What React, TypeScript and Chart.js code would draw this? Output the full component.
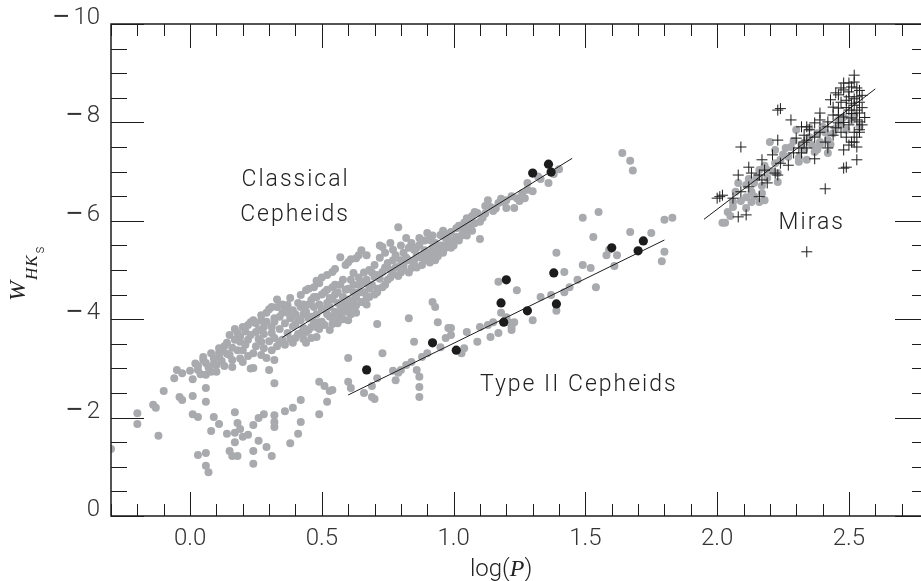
import React, { useEffect, useRef } from 'react';
import { Chart, registerables } from 'chart.js';
Chart.register(...registerables);

// ---- data (log P, W_HKs) ----
const classicalPoints: [number, number][] = [
  [-0.06,-2.80],[-0.05,-2.97],[-0.03,-2.90],[0.01,-2.78],[0.03,-2.97],[0.03,-3.05],[0.05,-3.17],[0.05,-3.23],[0.06,-2.87],[0.06,-3.11],
  [0.08,-2.93],[0.08,-3.31],[0.09,-3.09],[0.10,-2.93],[0.10,-3.07],[0.11,-3.31],[0.11,-3.23],[0.11,-3.41],[0.12,-3.37],[0.14,-3.52],
  [0.15,-3.27],[0.15,-3.68],[0.16,-3.03],[0.16,-3.17],[0.17,-3.58],[0.18,-3.72],[0.18,-3.37],[0.19,-3.54],[0.20,-3.37],[0.20,-3.13],
  [0.20,-3.84],[0.22,-3.88],[0.22,-3.58],[0.23,-3.00],[0.23,-3.94],[0.24,-3.98],[0.24,-3.31],[0.24,-3.01],[0.25,-3.74],[0.26,-3.78],
  [0.27,-3.27],[0.27,-3.54],[0.27,-3.98],[0.28,-3.41],[0.28,-3.84],[0.29,-3.21],[0.29,-4.13],[0.30,-2.97],[0.31,-3.37],[0.31,-3.84],
  [0.31,-4.25],[0.32,-3.62],[0.32,-3.17],[0.32,-4.02],[0.33,-4.25],[0.34,-3.54],[0.35,-4.13],[0.35,-3.58],
  [0.00,-2.95],[0.02,-3.10],[0.04,-2.88],[0.07,-3.02],[0.09,-3.20],[0.12,-3.15],[0.13,-3.45],[0.13,-3.05],[0.14,-3.30],[0.16,-3.42],
  [0.17,-3.80],[0.19,-3.20],[0.19,-3.65],[0.21,-3.48],[0.21,-3.75],[0.22,-3.25],[0.23,-3.68],[0.25,-3.45],[0.25,-3.92],[0.26,-3.60],
  [0.27,-4.08],[0.28,-3.70],[0.29,-3.95],[0.30,-3.55],[0.30,-4.20],[0.31,-3.72],[0.32,-3.95],[0.33,-4.40],[0.33,-3.45],[0.34,-3.80],
  [0.34,-4.05],[0.35,-4.30],[0.36,-3.92],[0.36,-3.48],[0.36,-4.20],
  [0.37,-4.13],[0.37,-4.29],[0.37,-3.72],[0.38,-4.43],[0.39,-3.52],[0.40,-3.90],[0.41,-4.33],[0.42,-3.98],[0.42,-4.49],[0.42,-4.25],
  [0.42,-3.72],[0.43,-4.10],[0.44,-3.74],[0.44,-4.59],[0.44,-3.52],[0.45,-4.02],[0.46,-4.39],[0.46,-3.84],[0.47,-4.65],[0.47,-4.25],
  [0.48,-3.84],[0.48,-4.45],[0.48,-3.64],[0.49,-4.73],[0.49,-3.94],[0.50,-4.20],[0.51,-4.55],[0.52,-4.90],[0.52,-4.33],[0.53,-4.05],
  [0.53,-4.43],[0.53,-3.78],[0.54,-4.96],[0.54,-4.65],[0.54,-4.04],[0.55,-3.94],[0.55,-4.50],[0.56,-4.33],[0.56,-3.92],[0.57,-4.13],
  [0.57,-5.26],[0.58,-4.80],[0.58,-4.19],[0.58,-4.45],[0.59,-4.60],[0.60,-5.16],[0.60,-3.98],[0.60,-4.40],[0.61,-4.33],[0.61,-4.25],
  [0.62,-4.94],[0.62,-4.55],[0.62,-4.39],[0.63,-5.24],[0.63,-4.13],[0.64,-4.70],[0.65,-4.55],[0.66,-4.74],[0.66,-4.35],[0.67,-4.45],
  [0.67,-5.30],[0.68,-4.62],[0.69,-4.95],[0.70,-4.86],[0.70,-4.50],
  [0.38,-3.60],[0.38,-4.02],[0.39,-3.85],[0.39,-4.18],[0.40,-3.62],[0.40,-4.10],[0.41,-3.70],[0.41,-4.00],[0.43,-3.82],[0.43,-4.30],
  [0.43,-3.60],[0.44,-4.15],[0.45,-3.78],[0.45,-4.30],[0.46,-4.05],[0.46,-3.62],[0.47,-3.95],[0.47,-4.45],[0.48,-4.10],[0.49,-4.30],
  [0.49,-3.80],[0.50,-4.50],[0.50,-3.95],[0.51,-4.20],[0.51,-3.88],[0.52,-4.60],[0.52,-4.10],[0.53,-4.25],[0.54,-3.90],[0.54,-4.40],
  [0.55,-4.15],[0.55,-4.70],[0.56,-4.05],[0.56,-4.55],[0.57,-4.28],[0.57,-4.70],[0.58,-4.00],[0.59,-4.35],[0.59,-4.15],[0.60,-4.62],
  [0.60,-4.25],[0.61,-4.80],[0.61,-4.10],[0.62,-4.70],[0.63,-4.45],[0.63,-4.28],[0.64,-4.85],[0.64,-4.55],[0.65,-4.35],[0.65,-4.75],
  [0.66,-4.95],[0.66,-4.55],[0.67,-4.30],[0.67,-4.80],[0.68,-4.45],[0.68,-5.00],[0.69,-4.70],
  [0.45,-4.62],[0.48,-4.78],[0.50,-4.85],[0.55,-5.02],[0.59,-5.10],[0.61,-5.22],[0.64,-5.30],[0.65,-5.40],
  [0.71,-4.55],[0.71,-4.90],[0.72,-5.50],[0.73,-4.96],[0.73,-5.47],[0.74,-4.70],[0.75,-5.14],[0.76,-4.85],[0.77,-5.41],[0.78,-5.05],
  [0.79,-5.06],[0.79,-5.87],[0.80,-4.95],[0.81,-5.35],[0.81,-5.10],[0.82,-5.65],[0.83,-5.20],[0.84,-5.04],[0.85,-5.41],[0.85,-5.20],
  [0.86,-5.30],[0.87,-5.51],[0.87,-5.26],[0.88,-5.10],[0.89,-5.40],[0.90,-5.75],[0.91,-5.61],[0.91,-5.30],[0.92,-5.45],[0.93,-5.20],
  [0.94,-5.41],[0.95,-5.71],[0.96,-5.50],[0.97,-5.65],[0.98,-5.57],[0.99,-5.77],[0.99,-5.45],[1.00,-5.60],
  [0.70,-5.10],[0.71,-4.62],[0.72,-4.82],[0.72,-5.25],[0.73,-4.65],[0.74,-5.05],[0.74,-5.35],[0.75,-4.80],[0.76,-5.00],[0.76,-5.55],
  [0.77,-4.92],[0.77,-5.20],[0.78,-5.30],[0.79,-4.88],[0.80,-5.20],[0.80,-5.50],[0.81,-5.00],[0.82,-5.25],[0.83,-5.45],[0.83,-4.95],
  [0.84,-5.55],[0.85,-5.10],[0.86,-5.45],[0.86,-5.05],[0.87,-5.65],[0.88,-5.30],[0.89,-5.20],[0.89,-5.60],[0.90,-5.35],[0.91,-5.15],
  [0.92,-5.70],[0.93,-5.35],[0.93,-5.55],[0.94,-5.28],[0.95,-5.50],[0.96,-5.80],[0.96,-5.35],[0.97,-5.45],[0.98,-5.72],[1.00,-5.50],
  [1.01,-5.67],[1.02,-5.90],[1.03,-5.85],[1.04,-5.96],[1.04,-5.75],[1.05,-5.70],[1.06,-6.02],[1.06,-5.87],[1.07,-6.10],[1.09,-6.16],
  [1.10,-5.98],[1.10,-5.63],[1.11,-6.06],[1.13,-6.42],[1.14,-6.28],[1.15,-6.20],[1.17,-6.36],[1.19,-6.38],[1.20,-6.42],[1.20,-6.26],
  [1.23,-6.26],[1.24,-6.46],[1.26,-6.56],[1.27,-6.46],[1.28,-6.63],[1.28,-6.77],[1.33,-6.85],[1.36,-6.77],[1.40,-7.05],
  [1.01,-5.85],[1.02,-5.60],[1.03,-5.70],[1.05,-5.85],[1.05,-6.05],[1.07,-5.80],[1.08,-5.95],[1.08,-6.18],[1.12,-6.15],[1.12,-6.30],
  [1.16,-6.25],[1.18,-6.45],[1.22,-6.50],[1.25,-6.40],[1.30,-6.60],[1.32,-6.90],[1.38,-6.95],
];

const type2Points: [number, number][] = [
  [-0.30,-1.36],[-0.20,-2.09],[-0.20,-1.87],[-0.14,-2.26],[-0.13,-2.20],[-0.12,-1.63],[-0.10,-2.54],[-0.04,-2.42],[-0.03,-2.36],[0.01,-2.44],
  [0.01,-2.07],[0.03,-2.01],[0.03,-1.24],[0.06,-2.60],[0.06,-2.32],[0.06,-1.28],[0.06,-1.02],[0.07,-0.89],[0.08,-1.73],[0.09,-2.01],
  [0.11,-1.87],[0.14,-1.67],[0.15,-1.32],[0.16,-1.22],[0.17,-2.11],[0.17,-1.69],[0.17,-1.50],[0.18,-1.89],[0.18,-1.22],[0.19,-1.77],
  [0.20,-1.61],[0.22,-1.65],[0.24,-1.85],[0.24,-1.32],[0.24,-1.06],[0.26,-1.99],[0.26,-1.53],[0.28,-2.07],[0.29,-1.40],[0.31,-1.22],
  [0.32,-2.70],[0.32,-2.05],[0.32,-1.91],[0.32,-1.81],[0.36,-2.13],[0.38,-1.48],[0.39,-2.20],[0.41,-1.67],[0.42,-2.36],[0.42,-1.91],
  [0.49,-2.73],[0.49,-2.07],[0.51,-2.64],[0.52,-2.32],[0.53,-2.54],[0.54,-2.56],[0.60,-2.73],[0.60,-3.21],[0.61,-2.60],[0.66,-2.50],
  [0.69,-2.64],[0.69,-2.42],[0.70,-2.38],[0.71,-2.80],[0.71,-3.90],[0.73,-3.31],[0.77,-2.95],[0.78,-2.76],[0.79,-2.91],[0.80,-2.97],
  [0.82,-3.07],[0.83,-4.02],[0.84,-3.13],[0.85,-3.54],[0.86,-2.97],[0.87,-2.83],[0.87,-2.62],[0.87,-2.42],[0.88,-3.23],[0.90,-3.31],
  [0.92,-4.35],[0.93,-4.25],[0.94,-3.94],[0.95,-3.43],[0.97,-3.62],[0.98,-3.82],[0.99,-3.68],[0.99,-3.82],[1.03,-3.31],[1.04,-3.41],
  [1.05,-3.74],[1.09,-3.54],[1.10,-3.84],[1.13,-3.88],[1.14,-3.64],[1.15,-3.94],[1.17,-3.72],[1.17,-4.76],[1.18,-4.13],[1.20,-4.04],
  [1.21,-3.94],[1.22,-3.78],[1.22,-3.84],[1.23,-3.94],[1.24,-4.59],[1.30,-3.98],[1.33,-4.45],[1.37,-4.49],[1.39,-4.17],[1.39,-5.35],
  [1.42,-4.96],[1.42,-4.55],[1.44,-4.65],[1.47,-4.80],[1.49,-5.10],[1.49,-6.06],[1.52,-5.04],[1.53,-5.67],[1.54,-4.65],[1.55,-6.18],
  [1.58,-5.30],[1.59,-5.41],[1.61,-5.08],[1.62,-5.30],[1.64,-7.38],[1.67,-7.22],[1.68,-7.02],[1.67,-5.77],[1.75,-5.75],[1.79,-5.18],
  [1.80,-5.37],[1.80,-6.02],[1.83,-6.06],
];

const blackPoints: [number, number][] = [
  [0.67,-2.97],[0.92,-3.52],[1.01,-3.37],[1.18,-4.33],[1.19,-3.94],[1.20,-4.80],[1.28,-4.17],[1.38,-4.94],[1.39,-4.31],
  [1.30,-6.97],[1.36,-7.15],[1.37,-6.99],[1.60,-5.45],[1.70,-5.39],[1.72,-5.59],
];

const miraDots: [number, number][] = [
  [2.02,-5.96],[2.03,-5.96],[2.04,-6.18],[2.06,-6.28],[2.06,-6.38],[2.07,-6.59],[2.08,-6.77],[2.11,-6.26],[2.11,-6.48],[2.11,-6.73],
  [2.13,-6.38],[2.13,-6.59],[2.14,-6.77],[2.16,-6.38],[2.16,-7.03],[2.17,-6.56],[2.17,-6.71],[2.15,-6.89],[2.18,-6.42],[2.19,-6.87],
  [2.19,-7.03],[2.20,-7.60],[2.22,-7.17],[2.23,-6.97],[2.23,-6.79],[2.24,-7.24],[2.22,-7.44],[2.26,-7.48],[2.27,-7.30],[2.28,-7.50],
  [2.30,-7.85],[2.31,-7.28],[2.31,-7.20],[2.33,-7.44],[2.34,-7.24],[2.35,-7.89],[2.36,-7.54],[2.37,-7.40],[2.38,-7.78],[2.39,-7.60],
  [2.39,-7.54],[2.40,-7.91],[2.42,-7.38],[2.42,-7.64],[2.44,-7.78],[2.46,-8.05],[2.47,-7.95],[2.48,-8.11],[2.51,-8.05],[2.54,-7.91],
  [2.05,-6.10],[2.09,-6.40],[2.12,-6.85],[2.14,-6.50],[2.18,-7.12],[2.21,-7.00],[2.25,-7.35],[2.29,-7.62],[2.32,-7.55],[2.35,-7.70],
  [2.38,-7.45],[2.41,-7.80],[2.43,-7.55],[2.45,-7.88],[2.49,-7.85],[2.52,-8.15],
];

const miraCrosses: [number, number][] = [
  [2.00,-6.46],[2.01,-6.49],[2.02,-6.52],[2.06,-6.46],[2.08,-6.08],[2.11,-6.12],[2.09,-6.59],[2.12,-6.69],[2.08,-6.93],[2.09,-7.50],
  [2.12,-7.09],[2.13,-6.97],[2.16,-6.93],[2.18,-7.03],[2.17,-6.83],[2.19,-6.77],[2.16,-6.49],[2.17,-7.24],[2.21,-7.34],[2.22,-6.97],
  [2.23,-6.93],[2.24,-7.17],[2.27,-7.13],[2.23,-8.25],[2.24,-8.28],[2.28,-8.05],[2.23,-7.64],[2.29,-7.38],[2.30,-7.68],[2.31,-7.48],
  [2.32,-7.38],[2.33,-7.60],[2.34,-7.48],[2.37,-7.26],[2.32,-7.91],[2.33,-7.74],[2.34,-7.91],[2.34,-7.64],[2.35,-7.85],[2.37,-7.99],
  [2.37,-7.70],[2.39,-7.80],[2.39,-8.05],[2.39,-8.19],[2.41,-7.60],[2.42,-7.48],[2.42,-7.91],[2.42,-8.01],[2.43,-8.46],[2.44,-8.15],
  [2.44,-8.31],[2.44,-7.74],[2.45,-7.89],[2.46,-8.29],[2.46,-8.56],[2.46,-7.99],[2.47,-8.41],[2.47,-7.80],[2.48,-8.66],[2.48,-8.80],
  [2.48,-8.11],[2.48,-7.44],[2.48,-7.07],[2.49,-7.70],[2.49,-7.09],[2.50,-8.52],[2.50,-8.25],[2.50,-7.95],[2.50,-7.54],[2.51,-8.72],
  [2.51,-8.39],[2.51,-8.09],[2.52,-8.96],[2.52,-7.80],[2.52,-7.60],[2.53,-8.70],[2.53,-8.52],[2.53,-8.25],[2.53,-7.70],[2.53,-7.50],
  [2.53,-7.24],[2.54,-8.41],[2.54,-8.19],[2.54,-8.01],[2.54,-7.85],[2.41,-6.65],[2.34,-5.37],[2.45,-8.60],[2.47,-8.70],[2.49,-8.45],
  [2.50,-8.62],[2.52,-8.48],[2.55,-8.55],[2.55,-8.30],[2.56,-8.10],[2.55,-7.95],[2.49,-8.30],[2.51,-8.18],[2.52,-8.35],[2.48,-8.00],
  [2.46,-8.15],[2.53,-8.05],[2.50,-8.80],[2.54,-8.65],[2.52,-8.82],[2.51,-7.60],[2.54,-7.80],
];

const classicalFit: [number, number][] = [[0.35,-3.63],[1.45,-7.27]];
const type2Fit: [number, number][] = [[0.60,-2.46],[1.80,-5.61]];
const miraFit: [number, number][] = [[1.95,-6.03],[2.60,-8.68]];

const xMajorTicks = [0, 0.5, 1.0, 1.5, 2.0, 2.5];
const yMajorTicks = [0, -2, -4, -6, -8, -10];

// annotation texts: [text, x(value), y(value)]
const groupLabels: [string, number, number][] = [
  ['Classical', 0.195, -6.83],
  ['Cepheids', 0.19, -6.12],
  ['Type II Cepheids', 1.10, -2.66],
  ['Miras', 2.233, -5.96],
];

const GRAY = '#a9aaad';
const INK = '#1c1c1c';
const SANS = 'Roboto, "Liberation Sans", sans-serif';
const SERIF = '"Liberation Serif", "DejaVu Serif", serif';

const toXY = (p: [number, number][]) => p.map(([x, y]) => ({ x, y }));

const framePlugin = {
  id: 'frameTicks',
  afterDatasetsDraw(chart: any) {
    const { ctx, chartArea: a, scales } = chart;
    const xs = scales.x, ys = scales.y;
    ctx.save();
    ctx.strokeStyle = INK;
    ctx.lineWidth = 1;
    const seg = (x1: number, y1: number, x2: number, y2: number) => {
      ctx.beginPath(); ctx.moveTo(x1, y1); ctx.lineTo(x2, y2); ctx.stroke();
    };
    for (let i = -3; i <= 28; i++) {
      const v = i / 10;
      const px = Math.round(xs.getPixelForValue(v)) + 0.5;
      const len = i % 5 === 0 ? 24 : 12;
      seg(px, a.bottom, px, a.bottom - len);
      seg(px, a.top, px, a.top + len);
    }
    for (let i = 0; i <= 20; i++) {
      const v = -i / 2;
      const py = Math.round(ys.getPixelForValue(v)) + 0.5;
      const len = i % 4 === 0 ? 33 : 16;
      seg(a.left, py, a.left + len, py);
      seg(a.right, py, a.right - len, py);
    }
    ctx.lineWidth = 1.5;
    ctx.strokeRect(a.left, a.top, a.right - a.left, a.bottom - a.top);

    // y tick labels (digits + separate minus sign)
    ctx.fillStyle = '#333';
    ctx.textBaseline = 'middle';
    ctx.textAlign = 'right';
    for (const v of yMajorTicks) {
      const py = ys.getPixelForValue(v) - 6;
      const digits = String(Math.abs(v));
      ctx.font = `300 24px ${SANS}`;
      ctx.fillText(digits, a.left - 11, py);
      const dw = ctx.measureText(digits).width;
      if (v < 0) {
        ctx.font = `28px "Liberation Sans", sans-serif`;
        ctx.fillText('\u2212', a.left - 11 - dw - 4, py - 1);
      }
    }

    // group labels
    ctx.fillStyle = '#222';
    ctx.font = `300 23px ${SANS}`;
    (ctx as any).letterSpacing = '2px';
    ctx.textBaseline = 'middle';
    ctx.textAlign = 'left';
    for (const [t, vx, vy] of groupLabels) {
      ctx.fillText(t, xs.getPixelForValue(vx), ys.getPixelForValue(vy));
    }
    (ctx as any).letterSpacing = '0px';

    // x title: log(P)
    ctx.textBaseline = 'alphabetic';
    const parts: [string, string][] = [
      ['log(', `300 24px ${SANS}`], ['P', `italic 24px ${SERIF}`], [')', `300 24px ${SANS}`],
    ];
    let total = 0;
    for (const [t, f] of parts) { ctx.font = f; total += ctx.measureText(t).width; }
    let cx = xs.getPixelForValue(1.18) - total / 2;
    for (const [t, f] of parts) { ctx.font = f; ctx.fillText(t, cx, 576); cx += ctx.measureText(t).width; }

    // y title: W_{HK_s}
    ctx.save();
    ctx.translate(25, 301);
    ctx.rotate(-Math.PI / 2);
    ctx.font = `italic 24px ${SERIF}`;
    ctx.fillText('W', 0, 0);
    let w = ctx.measureText('W').width + 1;
    ctx.font = `italic 17px ${SERIF}`;
    (ctx as any).letterSpacing = '1px';
    ctx.fillText('HK', w, 12);
    w += ctx.measureText('HK').width + 1;
    (ctx as any).letterSpacing = '0px';
    ctx.font = `300 14px ${SANS}`;
    ctx.fillText('s', w, 19);
    ctx.restore();
    ctx.restore();
  },
};

export default function App() {
  const ref = useRef<HTMLCanvasElement>(null);
  useEffect(() => {
    if (!ref.current) return;
    const chart = new Chart(ref.current, {
      type: 'scatter',
      data: {
        datasets: [
          { type: 'line', data: toXY(classicalFit), borderColor: INK, borderWidth: 1, pointRadius: 0, order: 0 } as any,
          { type: 'line', data: toXY(type2Fit), borderColor: INK, borderWidth: 1, pointRadius: 0, order: 0 } as any,
          { type: 'line', data: toXY(miraFit), borderColor: INK, borderWidth: 1, pointRadius: 0, order: 0 } as any,
          { data: toXY(miraCrosses), pointStyle: 'cross', pointRadius: 5.5, borderColor: INK, pointBorderWidth: 1, order: 1 } as any,
          { data: toXY(blackPoints), pointRadius: 4.6, backgroundColor: INK, borderWidth: 0, order: 2 } as any,
          { data: toXY(miraDots), pointRadius: 4, backgroundColor: GRAY, borderWidth: 0, order: 3 } as any,
          { data: toXY(type2Points), pointRadius: 4, backgroundColor: GRAY, borderWidth: 0, order: 3 } as any,
          { data: toXY(classicalPoints), pointRadius: 4, backgroundColor: GRAY, borderWidth: 0, order: 3 } as any,
        ],
      },
      options: {
        animation: false,
        responsive: false,
        devicePixelRatio: 1,
        layout: { padding: { left: 0, top: 24, right: 32, bottom: 0 } },
        plugins: { legend: { display: false }, tooltip: { enabled: false } },
        events: [],
        scales: {
          x: {
            type: 'linear', min: -0.3, max: 2.8,
            grid: { display: false, drawTicks: false }, border: { display: false },
            afterBuildTicks: (s: any) => { s.ticks = xMajorTicks.map((v) => ({ value: v })); },
            afterFit: (s: any) => { s.height = 65; },
            ticks: { padding: 9, color: '#333', font: { family: SANS, size: 24, weight: '300' as any }, callback: (v: any) => Number(v).toFixed(1), maxRotation: 0, autoSkip: false },
          },
          y: {
            type: 'linear', min: -10, max: 0, reverse: true,
            grid: { display: false, drawTicks: false }, border: { display: false },
            afterBuildTicks: (s: any) => { s.ticks = yMajorTicks.map((v) => ({ value: v })); },
            afterFit: (s: any) => { s.width = 111; },
            ticks: { display: false },
          },
        },
      } as any,
      plugins: [framePlugin],
    });
    return () => chart.destroy();
  }, []);
  return (
    <div style={{ position: 'fixed', left: 0, top: 0, width: 921, height: 581, overflow: 'hidden', background: '#fff' }}>
      <canvas ref={ref} width={960} height={581} style={{ display: 'block', width: 960, height: 581 }} />
    </div>
  );
}
